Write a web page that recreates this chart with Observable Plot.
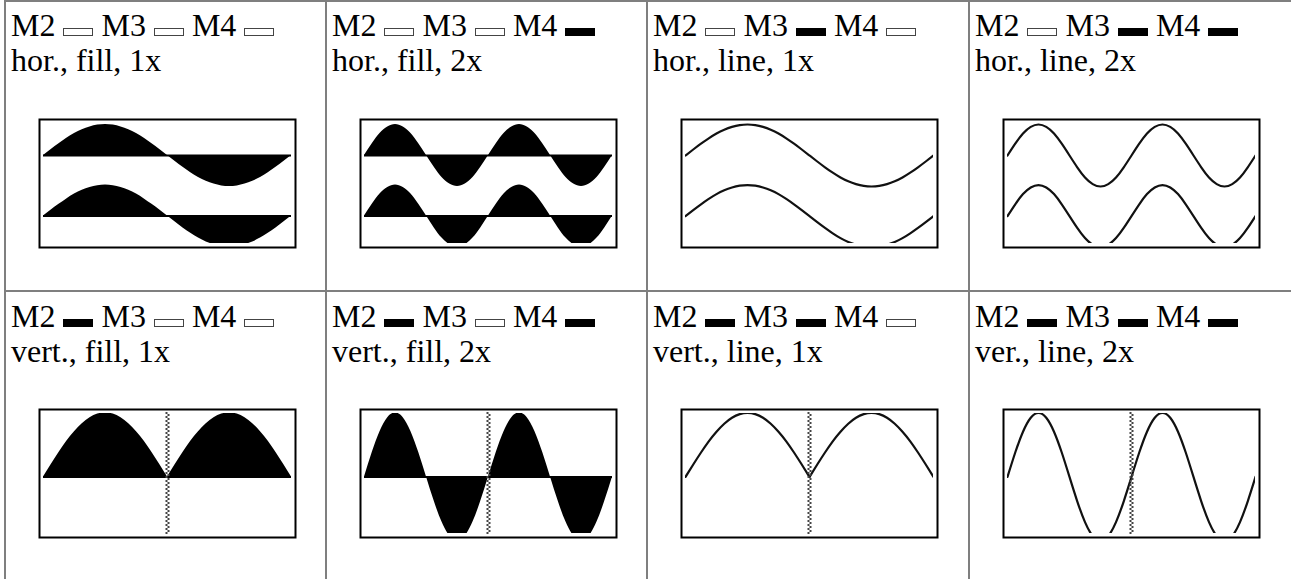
<!DOCTYPE html>
<html>
<head>
<meta charset="utf-8">
<script src="https://cdn.jsdelivr.net/npm/d3@7"></script>
<script src="https://cdn.jsdelivr.net/npm/@observablehq/plot@0.6"></script>
<style>
html, body { margin: 0; padding: 0; background: #fff; }
body { width: 1291px; height: 579px; position: relative; overflow: hidden;
       font-family: "Liberation Serif", "Times New Roman", serif; }
.vline { position: absolute; top: 0; height: 579px; width: 2px; background: #7f7f7f; }
.hline { position: absolute; left: 4px; width: 1287px; height: 2px; background: #7f7f7f; }
.label { position: absolute; font-size: 32px; line-height: 35px; color: #000; white-space: nowrap; }
.sw { display: inline-block; width: 28px; height: 6px; border: 1px solid #444; vertical-align: baseline; }
.sw.on { background: #000; border-color: #000; }
.chart { position: absolute; }
.chart svg { overflow: visible; }
</style>
</head>
<body>
<script>
// ---- cell settings ----
const captions = ["hor., fill, 1x", "hor., fill, 2x", "hor., line, 1x", "hor., line, 2x",
                  "vert., fill, 1x", "vert., fill, 2x", "vert., line, 1x", "ver., line, 2x"];
const m2 = [false, false, false, false, true, true, true, true];
const m3 = [false, false, true, true, false, false, true, true];
const m4 = [false, true, false, true, false, true, false, true];
const orientation = ["hor", "hor", "hor", "hor", "vert", "vert", "vert", "vert"];
const drawStyle = ["fill", "fill", "line", "line", "fill", "fill", "line", "line"];
const speed = [1, 2, 1, 2, 1, 2, 1, 2];

// ---- waveform samples (LCD rows relative to the zero line), 33 samples across the screen ----
const horWave1x = [0, 3.0, 5.9, 8.6, 11.0, 12.9, 14.3, 15.2, 15.5, 15.2, 14.3, 12.9, 11.0, 8.6, 5.9, 3.0,
  0, -3.0, -5.9, -8.6, -11.0, -12.9, -14.3, -15.2, -15.5, -15.2, -14.3, -12.9, -11.0, -8.6, -5.9, -3.0, 0];
const horWave2x = [0, 5.9, 11.0, 14.3, 15.5, 14.3, 11.0, 5.9, 0, -5.9, -11.0, -14.3, -15.5, -14.3, -11.0, -5.9,
  0, 5.9, 11.0, 14.3, 15.5, 14.3, 11.0, 5.9, 0, -5.9, -11.0, -14.3, -15.5, -14.3, -11.0, -5.9, 0];
const vertWave1x = [0, 6.2, 12.2, 17.8, 22.6, 26.6, 29.6, 31.4, 32, 31.4, 29.6, 26.6, 22.6, 17.8, 12.2, 6.2,
  0, 6.2, 12.2, 17.8, 22.6, 26.6, 29.6, 31.4, 32, 31.4, 29.6, 26.6, 22.6, 17.8, 12.2, 6.2, 0];
const vertWave2x = [0, 12.2, 22.6, 29.6, 32, 29.6, 22.6, 12.2, 0, -12.2, -22.6, -29.6, -32, -29.6, -22.6, -12.2,
  0, 12.2, 22.6, 29.6, 32, 29.6, 22.6, 12.2, 0, -12.2, -22.6, -29.6, -32, -29.6, -22.6, -12.2, 0];
const horAxes = [14, -16.3];   // two traces in horizontal mode
const vertAxes = [-1.7];       // one trace in vertical mode
const cursorX = [16];          // dotted cursor in vertical mode
const yVisible = [-30, 30];    // visible LCD rows
const xSamples = [0, 32];

// ---- layout ----
const colLines = [5, 326, 647, 969];
const rowTops = [0, 290.5];

for (const x of colLines) {
  const d = document.createElement("div");
  d.className = "vline"; d.style.left = (x - 1) + "px";
  document.body.appendChild(d);
}
for (const y of rowTops) {
  const d = document.createElement("div");
  d.className = "hline"; d.style.top = (y === 0 ? 0 : y - 1) + "px";
  document.body.appendChild(d);
}

const sw = on => `<span class="sw${on ? " on" : ""}"></span>`;

captions.forEach((cap, i) => {
  const col = i % 4, row = Math.floor(i / 4);
  const left = colLines[col], top = rowTops[row];

  const lab = document.createElement("div");
  lab.className = "label";
  lab.style.left = (left + 6) + "px";
  lab.style.top = (top + 8) + "px";
  lab.innerHTML = `M2 ${sw(m2[i])} M3 ${sw(m3[i])} M4 ${sw(m4[i])}<br>${cap}`;
  document.body.appendChild(lab);

  const hor = orientation[i] === "hor";
  const wave = hor ? (speed[i] === 1 ? horWave1x : horWave2x) : (speed[i] === 1 ? vertWave1x : vertWave2x);
  const axes = hor ? horAxes : vertAxes;
  const rows = [];
  axes.forEach((base, c) => {
    wave.forEach((v, k) => {
      // rectified 1x vertical wave: two arches that meet at the cusp
      if (!hor && speed[i] === 1) {
        if (k <= 16) rows.push({k, base, y: base + v, seg: c * 10 + 0});
        if (k >= 16) rows.push({k, base, y: base + v, seg: c * 10 + 1});
      } else {
        rows.push({k, base, y: base + v, seg: c * 10});
      }
    });
  });

  const marks = [];
  if (drawStyle[i] === "fill") {
    marks.push(Plot.areaY(rows, {x: "k", y1: "base", y2: "y", z: "seg", fill: "#000", curve: "natural", clip: true}));
    marks.push(Plot.ruleY(axes, {stroke: "#000", strokeWidth: 2}));
  } else {
    marks.push(Plot.line(rows, {x: "k", y: "y", z: "seg", stroke: "#111", strokeWidth: 2.2, curve: "natural", clip: true}));
  }
  if (!hor) {
    marks.push(Plot.ruleX(cursorX, {stroke: "#444", strokeWidth: 2, strokeDasharray: "2,2", dx: -1, insetTop: -1, insetBottom: -1}));
    marks.push(Plot.ruleX(cursorX, {stroke: "#444", strokeWidth: 2, strokeDasharray: "2,2", strokeDashoffset: 2, dx: 1, insetTop: -1, insetBottom: -1}));
  }
  marks.push(Plot.frame({stroke: "#000", strokeWidth: 2, inset: -4}));

  const chart = Plot.plot({
    width: 258, height: 130,
    marginLeft: 5, marginRight: 5, marginTop: 5, marginBottom: 5,
    x: {axis: null, domain: xSamples},
    y: {axis: null, domain: yVisible},
    style: {background: "transparent"},
    marks
  });
  const wrap = document.createElement("div");
  wrap.className = "chart";
  wrap.style.left = Math.round(left + 33) + "px";
  wrap.style.top = Math.round(top + 117.5) + "px";
  wrap.appendChild(chart);
  document.body.appendChild(wrap);
});
</script>
</body>
</html>
